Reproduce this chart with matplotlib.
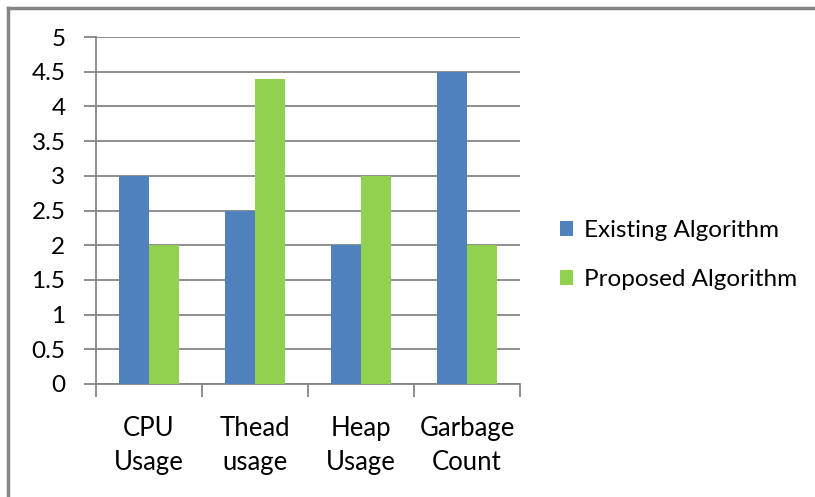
import matplotlib
matplotlib.use("Agg")
import matplotlib.pyplot as plt
import numpy as np
from matplotlib.lines import Line2D

categories = ["CPU\nUsage", "Thead\nusage", "Heap\nUsage", "Garbage\nCount"]
existing = [3, 2.5, 2, 4.5]
proposed = [2, 4.4, 3, 2]
series_names = ["Existing Algorithm", "Proposed Algorithm"]
yticks = [0, 0.5, 1, 1.5, 2, 2.5, 3, 3.5, 4, 4.5, 5]
ytick_labels = ["0", "0.5", "1", "1.5", "2", "2.5", "3", "3.5", "4", "4.5", "5"]

plt.rcParams['font.family'] = ['Lato', 'DejaVu Sans']
W, H = 815, 497
fig = plt.figure(figsize=(W/100, H/100), dpi=100)

# plot area in pixels
x0, x1, ytop, ybot = 96, 520, 37, 384
ax = fig.add_axes([x0/W, 1 - ybot/H, (x1-x0)/W, (ybot-ytop)/H])

blue = "#4f81bd"
green = "#92d050"
grid = "#868686"

n = len(categories)
x = np.arange(n)
bw = 1/3.5
ax.bar(x - bw/2, existing, width=bw, color=blue, label=series_names[0], zorder=3)
ax.bar(x + bw/2, proposed, width=bw, color=green, label=series_names[1], zorder=3)

ax.set_xlim(-0.5, n - 0.5)
ax.set_ylim(0, 5)
ax.set_yticks(yticks)
ax.set_yticklabels(ytick_labels, fontsize=17.5)
ax.yaxis.grid(True, color=grid, linewidth=1.3, zorder=0)
ax.tick_params(axis='y', length=9, width=1.3, color=grid, pad=13)
for s in ["top", "right"]:
    ax.spines[s].set_visible(False)
for s in ["left", "bottom"]:
    ax.spines[s].set_color(grid)
    ax.spines[s].set_linewidth(1.3)

ax.set_xticks(np.arange(n + 1) - 0.5, minor=False)
ax.set_xticklabels([])
ax.tick_params(axis='x', length=9, width=1.3, color=grid, direction='out')
for i, c in enumerate(categories):
    ax.text(i, -0.46, c, ha='center', va='top', fontsize=18.5, linespacing=1.45,
            transform=ax.transData)

leg = fig.legend(loc='center left', bbox_to_anchor=(560/W, 1 - 255/H), frameon=False,
                 fontsize=17.5, handlelength=0.55, handleheight=0.55, handletextpad=0.45,
                 labelspacing=1.15, borderpad=0, borderaxespad=0)

# figure border (top and left)
fig.add_artist(Line2D([8/W, 8/W], [0, 1 - 8/H], color=grid, linewidth=2.5, transform=fig.transFigure))
fig.add_artist(Line2D([8/W, 1], [1 - 8/H, 1 - 8/H], color=grid, linewidth=2.5, transform=fig.transFigure))

fig.savefig("out.png", dpi=100)
